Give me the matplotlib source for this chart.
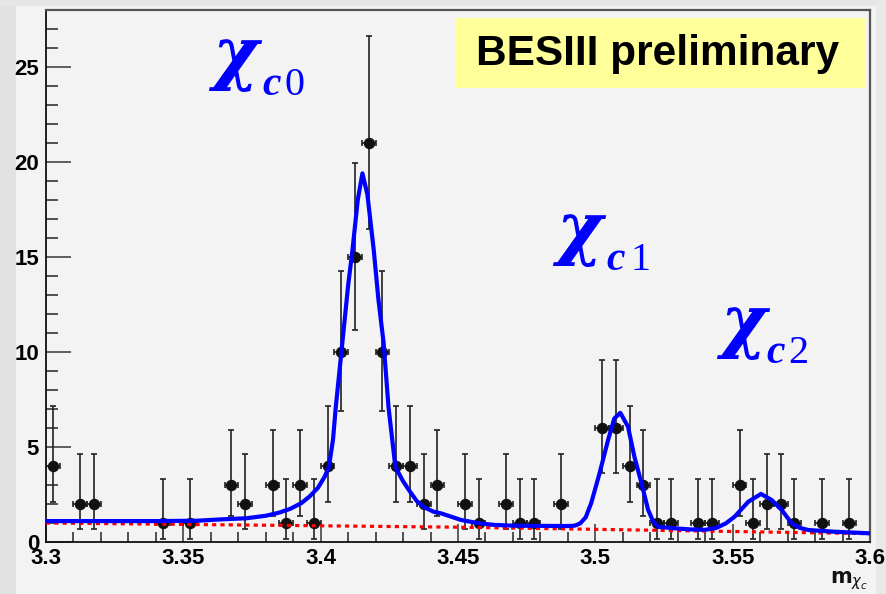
import matplotlib
matplotlib.use("Agg")
from matplotlib import patches
from matplotlib import pyplot as plt
from matplotlib.ticker import FixedLocator, FixedFormatter, MultipleLocator

# binned event counts (bin width 0.005)
bin_centers = [
    3.3025, 3.3125, 3.3175, 3.3425, 3.3525, 3.3675, 3.3725, 3.3825, 3.3875,
    3.3925, 3.3975, 3.4025, 3.4075, 3.4125, 3.4175, 3.4225, 3.4275, 3.4325,
    3.4375, 3.4425, 3.4525, 3.4575, 3.4675, 3.4725, 3.4775, 3.4875, 3.5025,
    3.5075, 3.5125, 3.5175, 3.5225, 3.5275, 3.5375, 3.5425, 3.5525, 3.5575,
    3.5625, 3.5675, 3.5725, 3.5825, 3.5925,
]
counts = [
    4, 2, 2, 1, 1, 3, 2, 3, 1,
    3, 1, 4, 10, 15, 21, 10, 4, 4,
    2, 3, 2, 1, 2, 1, 1, 2, 6,
    6, 4, 3, 1, 1, 1, 1, 3, 1,
    2, 2, 1, 1, 1,
]
# poisson interval (low, high) for each count
poisson_band = {
    1: (0.17, 3.30),
    2: (0.71, 4.64),
    3: (1.37, 5.92),
    4: (2.09, 7.16),
    6: (3.63, 9.58),
    10: (6.90, 14.26),
    15: (11.17, 19.95),
    21: (16.46, 26.65),
}
half_bin = 0.0025

# total fit curve
fit_x = [
    3.300, 3.320, 3.340, 3.355, 3.365, 3.373, 3.380, 3.385, 3.389, 3.393,
    3.396, 3.399, 3.4015, 3.4030, 3.4045, 3.4055, 3.4079, 3.4100, 3.4116,
    3.4135, 3.4152, 3.4170, 3.4193, 3.4210, 3.4229, 3.4247, 3.4272, 3.4300,
    3.4321, 3.4350, 3.4376, 3.4410, 3.4440, 3.4511, 3.4570, 3.4631, 3.4700,
    3.4800, 3.4900, 3.4925, 3.4945, 3.4965, 3.4985, 3.5015, 3.5047, 3.5069,
    3.5091, 3.5119, 3.5142, 3.5168, 3.5192, 3.5210, 3.5229, 3.5288, 3.5350,
    3.5400, 3.5440, 3.5475, 3.5507, 3.5557, 3.5603, 3.5642, 3.5679, 3.5715,
    3.5745, 3.5776, 3.5872, 3.5995,
]
fit_y = [
    1.10, 1.10, 1.10, 1.12, 1.20, 1.25, 1.38, 1.55, 1.75, 2.05,
    2.40, 2.85, 3.45, 3.95, 5.40, 7.10, 10.50, 13.50, 15.40,
    18.00, 19.40, 18.30, 15.40, 12.80, 10.50, 7.10, 3.95, 3.20,
    2.74, 2.15, 1.84, 1.60, 1.50, 1.16, 1.00, 0.90, 0.86,
    0.85, 0.84, 0.86, 0.98, 1.30, 2.05, 3.60, 5.40, 6.50,
    6.80, 6.07, 4.50, 3.10, 1.70, 1.10, 0.80, 0.72, 0.66,
    0.64, 0.74, 0.98, 1.33, 2.12, 2.53, 2.21, 1.68, 0.98,
    0.74, 0.63, 0.54, 0.46,
]
# background component
bkg_x = [3.30, 3.45, 3.60]
bkg_y = [1.00, 0.78, 0.44]

x_ticks = [3.30, 3.35, 3.40, 3.45, 3.50, 3.55, 3.60]
x_tick_labels = ["3.3", "3.35", "3.4", "3.45", "3.5", "3.55", "3.6"]
y_ticks = [0, 5, 10, 15, 20, 25]
y_tick_labels = ["0", "5", "10", "15", "20", "25"]

W, H = 887, 594


def fig_xy(px, py):
    return px / W, 1 - py / H


def strip(fig, x0, y0, x1, y1, color):
    fx0, fy0 = fig_xy(x0, y1)
    fx1, fy1 = fig_xy(x1, y0)
    fig.patches.append(patches.Rectangle((fx0, fy0), fx1 - fx0, fy1 - fy0,
                                         transform=fig.transFigure, facecolor=color,
                                         edgecolor="none", zorder=-5))


def main():
    fig = plt.figure(figsize=(W / 100, H / 100), dpi=100, facecolor="#f3f3f3")
    # darker strips round the canvas
    strip(fig, 0, 0, 16, H, "#e2e2e2")
    strip(fig, 0, 0, W, 6, "#e6e6e6")
    strip(fig, 876, 0, W, H, "#e8e8e8")

    left, top = fig_xy(46, 10)
    right, bottom = fig_xy(870, 542)
    ax = fig.add_axes([left, bottom, right - left, top - bottom])
    ax.set_facecolor("#f3f3f3")

    lo = [n - poisson_band[n][0] for n in counts]
    hi = [poisson_band[n][1] - n for n in counts]
    ax.errorbar(bin_centers, counts, yerr=[lo, hi], xerr=half_bin, fmt="o",
                color="#111111", ecolor="#222222", ms=7.2, elinewidth=1.2,
                capsize=2.4, capthick=1.2, zorder=2)

    ax.plot(bkg_x, bkg_y, color="#ff0000", lw=2.3, ls=(0, (1.3, 1.3)), zorder=3)
    ax.plot(fit_x, fit_y, color="#0000ff", lw=3.0, zorder=4, solid_joinstyle="round")

    ax.set_xlim(3.3, 3.6)
    ax.set_ylim(0, 28)

    ax.xaxis.set_major_locator(FixedLocator(x_ticks))
    ax.xaxis.set_major_formatter(FixedFormatter(x_tick_labels))
    ax.xaxis.set_minor_locator(MultipleLocator(0.01))
    ax.yaxis.set_major_locator(FixedLocator(y_ticks))
    ax.yaxis.set_major_formatter(FixedFormatter(y_tick_labels))
    ax.yaxis.set_minor_locator(MultipleLocator(1))

    ax.tick_params(axis="y", which="major", direction="in", length=18, width=1.2,
                   color="#444444", pad=5)
    ax.tick_params(axis="y", which="minor", direction="in", length=8.5, width=1.2,
                   color="#333333")
    ax.tick_params(axis="x", which="major", direction="in", length=13, width=1.2,
                   color="#444444", pad=4)
    ax.tick_params(axis="x", which="minor", direction="in", length=7, width=1.2,
                   color="#333333")
    for lab in ax.get_xticklabels() + ax.get_yticklabels():
        lab.set_fontfamily("Liberation Sans")
        lab.set_fontweight("bold")
        lab.set_fontsize(16)

    for side in ("left", "bottom"):
        ax.spines[side].set_color("#111111")
        ax.spines[side].set_linewidth(1.3)
    for side in ("top", "right"):
        ax.spines[side].set_color("#555555")
        ax.spines[side].set_linewidth(1.6)

    # axis title
    fig.text(*fig_xy(868, 583), r"$\mathbf{m}_{\chi_{c}}$", ha="right", va="baseline",
             fontsize=15, color="#111111")

    # BESIII preliminary banner
    strip(fig, 456, 18, 865, 88, "#ffff99")
    fig.patches[-1].set_zorder(5)
    fig.text(*fig_xy(658, 54), "BESIII preliminary", ha="center", va="center",
             fontsize=30.5, fontweight="bold", family="Liberation Sans", color="black",
             zorder=6)

    # state labels
    labels = [
        ("0", 212, 262, 285, 95),
        ("1", 556, 606, 630, 270),
        ("2", 720, 766, 788, 363),
    ]
    for digit, chi_x, c_x, d_x, base in labels:
        fig.text(*fig_xy(chi_x, base - 18), "\u03c7", fontsize=50, style="italic",
                 fontweight="bold", family="DejaVu Serif", color="#0000ff",
                 ha="left", va="baseline", zorder=6)
        fig.text(*fig_xy(c_x, base), "c", fontsize=30, style="italic",
                 fontweight="bold", family="Liberation Serif", color="#0000ff",
                 ha="left", va="baseline", zorder=6)
        fig.text(*fig_xy(d_x, base), digit, fontsize=29,
                 family="Liberation Serif", color="#0000ff",
                 ha="left", va="baseline", zorder=6)

    fig.savefig("out.png", dpi=100, facecolor=fig.get_facecolor())


if __name__ == "__main__":
    main()
